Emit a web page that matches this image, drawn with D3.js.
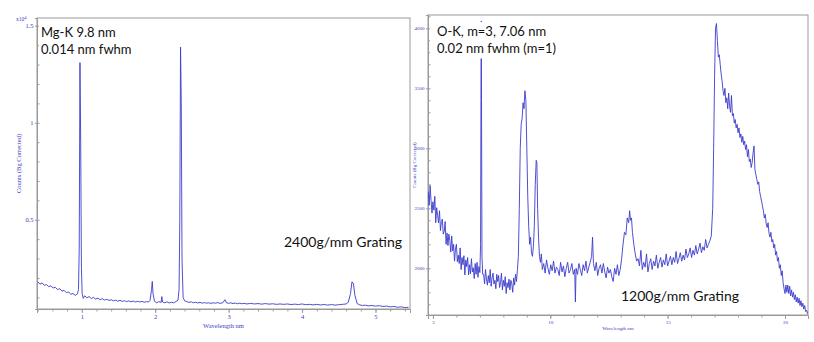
<!DOCTYPE html>
<html>
<head>
<meta charset="utf-8">
<script src="https://cdn.jsdelivr.net/npm/d3@7"></script>
<style>
  html, body { margin: 0; padding: 0; background: #fff; }
  svg { display: block; }
</style>
</head>
<body>
<svg id="chart" width="814" height="342"></svg>
<script>
// ---- Mg-K spectrum, 2400 g/mm grating (counts in units of 10^4) ----
const leftSpectrum = [
  [0.40,0.180],[0.43,0.168],[0.46,0.175],[0.49,0.162],[0.52,0.166],[0.55,0.155],[0.58,0.160],
  [0.61,0.148],[0.64,0.152],[0.67,0.140],[0.70,0.145],[0.73,0.132],[0.76,0.136],[0.79,0.124],
  [0.82,0.128],[0.85,0.116],[0.88,0.120],[0.91,0.110],[0.94,0.118],[0.955,0.140],[0.965,0.350],
  [0.975,1.310],[0.985,0.900],[0.995,0.250],[1.005,0.120],[1.02,0.095],[1.04,0.108],[1.07,0.098],
  [1.10,0.104],[1.13,0.094],[1.16,0.100],[1.19,0.091],[1.22,0.096],[1.25,0.088],[1.28,0.093],
  [1.31,0.086],[1.34,0.090],[1.37,0.084],[1.40,0.088],[1.43,0.082],[1.46,0.086],[1.49,0.080],
  [1.52,0.085],[1.55,0.079],[1.58,0.083],[1.61,0.078],[1.64,0.082],[1.67,0.077],[1.70,0.081],
  [1.73,0.076],[1.76,0.080],[1.79,0.076],[1.82,0.079],[1.85,0.075],[1.88,0.078],[1.91,0.076],
  [1.93,0.085],[1.95,0.140],[1.96,0.182],[1.97,0.120],[1.99,0.080],[2.02,0.072],[2.05,0.078],
  [2.08,0.074],[2.09,0.104],[2.10,0.076],[2.13,0.072],[2.16,0.077],[2.19,0.071],[2.22,0.075],
  [2.25,0.072],[2.28,0.078],[2.31,0.085],[2.325,0.140],[2.335,0.500],[2.345,1.390],[2.355,1.100],
  [2.365,0.300],[2.38,0.100],[2.40,0.082],[2.43,0.078],[2.46,0.074],[2.49,0.077],[2.52,0.072],
  [2.55,0.075],[2.58,0.071],[2.61,0.074],[2.64,0.070],[2.67,0.073],[2.70,0.070],[2.73,0.072],
  [2.76,0.069],[2.79,0.072],[2.82,0.070],[2.85,0.073],[2.88,0.069],[2.92,0.072],[2.95,0.088],
  [2.97,0.072],[3.00,0.069],[3.03,0.072],[3.06,0.068],[3.09,0.071],[3.12,0.067],[3.15,0.070],
  [3.18,0.067],[3.21,0.069],[3.25,0.066],[3.30,0.069],[3.35,0.066],[3.40,0.068],[3.45,0.065],
  [3.50,0.068],[3.55,0.065],[3.60,0.067],[3.65,0.064],[3.70,0.066],[3.75,0.064],[3.80,0.066],
  [3.85,0.063],[3.90,0.065],[3.95,0.063],[4.00,0.066],[4.05,0.062],[4.10,0.064],[4.15,0.061],
  [4.20,0.064],[4.25,0.061],[4.30,0.063],[4.35,0.060],[4.40,0.063],[4.45,0.060],[4.50,0.062],
  [4.55,0.064],[4.60,0.066],[4.63,0.075],[4.66,0.120],[4.68,0.180],[4.70,0.170],[4.72,0.110],
  [4.75,0.068],[4.78,0.062],[4.82,0.058],[4.86,0.060],[4.90,0.056],[4.95,0.058],[5.00,0.055],
  [5.05,0.057],[5.10,0.053],[5.15,0.055],[5.20,0.051],[5.25,0.053],[5.30,0.049],[5.35,0.051],
  [5.40,0.047],[5.45,0.049]
];
const leftXTicks = [1, 2, 3, 4, 5];
const leftYTicks = [0.5, 1, 1.5];
const leftNotes = ["Mg-K 9.8 nm", "0.014 nm fwhm"];
const leftGrating = "2400g/mm Grating";

// ---- O-K spectrum, 1200 g/mm grating (counts) ----
const rightSpectrum = [
  [4.80,2640],[4.84,2525],[4.88,2690],[4.92,2565],[4.96,2460],[5.00,2555],[5.04,2485],[5.08,2600],
  [5.12,2380],[5.16,2505],[5.20,2440],[5.24,2380],[5.28,2480],[5.32,2315],[5.36,2390],[5.40,2410],
  [5.44,2285],[5.48,2305],[5.52,2390],[5.56,2200],[5.60,2295],[5.64,2190],[5.68,2285],[5.72,2230],
  [5.76,2135],[5.80,2270],[5.84,2145],[5.88,2200],[5.92,2060],[5.96,2160],[6.00,2200],[6.04,2055],
  [6.08,2110],[6.12,2040],[6.16,2170],[6.20,1990],[6.24,2090],[6.28,2030],[6.32,2105],[6.36,1945],
  [6.40,2070],[6.44,2015],[6.48,2090],[6.52,1945],[6.56,2030],[6.60,1955],[6.64,2080],[6.68,1970],
  [6.72,2005],[6.76,1915],[6.80,2040],[6.84,1950],[6.88,2050],[6.92,1925],[6.96,2015],[7.00,1965],
  [7.03,2200],[7.05,3600],[7.06,4060],[7.07,3400],[7.09,2100],[7.12,1950],[7.16,1950],[7.20,1870],
  [7.24,1990],[7.28,1910],[7.32,1860],[7.36,1940],[7.40,1880],[7.44,1990],[7.48,1850],[7.52,1920],
  [7.56,1960],[7.60,1870],[7.64,1900],[7.68,1830],[7.72,1950],[7.76,1890],[7.80,1940],[7.84,1840],
  [7.88,1880],[7.92,1960],[7.96,1820],[8.00,1900],[8.04,1850],[8.08,1930],[8.12,1790],[8.16,1880],
  [8.20,1840],[8.24,1910],[8.28,1820],[8.32,1900],[8.36,1870],[8.40,1800],[8.44,1920],[8.48,1860],
  [8.52,1950],[8.56,1890],[8.60,1990],[8.64,2100],[8.68,2500],[8.72,3000],[8.76,3200],[8.80,3250],
  [8.84,3380],[8.88,3330],[8.92,3480],[8.96,3400],[9.00,3000],[9.04,2600],[9.08,2350],[9.12,2200],
  [9.16,2260],[9.20,2130],[9.24,2100],[9.28,2180],[9.32,2350],[9.36,2700],[9.40,2900],[9.43,2880],
  [9.46,2500],[9.50,2250],[9.54,2100],[9.58,2050],[9.62,2120],[9.66,1990],[9.72,2040],[9.78,1960],
  [9.84,2070],[9.90,2000],[9.96,1950],[10.02,2030],[10.08,1980],[10.14,2060],[10.20,1960],[10.26,2010],
  [10.32,1990],[10.38,1940],[10.44,2050],[10.50,1970],[10.56,2020],[10.62,1930],[10.68,2000],[10.74,2050],
  [10.80,1960],[10.86,1990],[10.92,2040],[10.98,1950],[11.04,1990],[11.07,1720],[11.10,2000],[11.16,1950],
  [11.22,2040],[11.28,1990],[11.34,1940],[11.40,2030],[11.46,1980],[11.52,2060],[11.58,1960],[11.64,2010],
  [11.70,2050],[11.76,2100],[11.80,2260],[11.84,2040],[11.90,1980],[11.96,2050],[12.02,1940],[12.08,2000],
  [12.14,2030],[12.20,1960],[12.26,2040],[12.32,1970],[12.38,1920],[12.44,2010],[12.50,1960],[12.56,1990],
  [12.62,1930],[12.68,1890],[12.74,2000],[12.80,1950],[12.86,2030],[12.92,1940],[12.98,1990],[13.04,2080],
  [13.10,2200],[13.16,2300],[13.22,2280],[13.28,2420],[13.34,2380],[13.38,2480],[13.42,2400],[13.46,2420],
  [13.50,2300],[13.56,2200],[13.62,2120],[13.68,2060],[13.74,2080],[13.80,2020],[13.86,2150],[13.92,1990],
  [13.98,2050],[14.04,2010],[14.10,2120],[14.16,1970],[14.22,2040],[14.28,2080],[14.34,1990],[14.40,2060],
  [14.46,2020],[14.52,2110],[14.58,2000],[14.64,2050],[14.70,2090],[14.76,2010],[14.82,2070],[14.88,2030],
  [14.94,2120],[15.00,2020],[15.06,2060],[15.12,2100],[15.18,2030],[15.24,2090],[15.30,2050],[15.36,2140],
  [15.42,2040],[15.48,2080],[15.54,2130],[15.60,2060],[15.66,2110],[15.72,2070],[15.78,2160],[15.84,2090],
  [15.90,2120],[15.96,2170],[16.02,2090],[16.08,2150],[16.14,2110],[16.20,2190],[16.26,2120],[16.32,2160],
  [16.38,2210],[16.44,2130],[16.50,2180],[16.56,2150],[16.62,2240],[16.68,2170],[16.74,2200],[16.80,2230],
  [16.86,2270],[16.92,2500],[16.96,3000],[17.00,3600],[17.04,4000],[17.08,4040],[17.12,3900],[17.16,3760],
  [17.20,3780],[17.24,3700],[17.28,3620],[17.32,3560],[17.36,3480],[17.40,3440],[17.44,3500],[17.48,3380],
  [17.52,3420],[17.56,3330],[17.60,3460],[17.64,3350],[17.68,3300],[17.72,3440],[17.76,3270],[17.80,3290],
  [17.84,3210],[17.88,3240],[17.92,3170],[17.96,3200],[18.00,3130],[18.04,3170],[18.08,3090],[18.12,3120],
  [18.16,3050],[18.20,3100],[18.24,3030],[18.28,3060],[18.32,2990],[18.36,3030],[18.40,2930],[18.44,2990],
  [18.48,2890],[18.52,2910],[18.56,2840],[18.60,2880],[18.64,2960],[18.68,3020],[18.72,2820],[18.76,2780],
  [18.80,2740],[18.84,2700],[18.88,2720],[18.92,2640],[18.96,2600],[19.00,2560],[19.04,2520],[19.08,2480],
  [19.12,2420],[19.16,2450],[19.20,2370],[19.24,2340],[19.28,2380],[19.32,2290],[19.36,2260],[19.40,2300],
  [19.44,2220],[19.48,2240],[19.52,2170],[19.56,2200],[19.60,2110],[19.64,2140],[19.68,2060],[19.72,2090],
  [19.76,2000],[19.80,2030],[19.84,1940],[19.88,1980],[19.92,1880],[19.96,1830],[20.00,1790],[20.04,1860],
  [20.08,1800],[20.12,1860],[20.16,1790],[20.20,1850],[20.24,1770],[20.28,1820],[20.32,1760],[20.36,1800],
  [20.40,1740],[20.44,1780],[20.48,1720],[20.52,1760],[20.56,1710],[20.60,1750],[20.64,1690],[20.68,1730],
  [20.72,1680],[20.76,1710],[20.80,1660],[20.84,1690],[20.88,1640],[20.92,1650],[20.96,1620]
];
const rightXTicks = [5, 10, 15, 20];
const rightYTicks = [2000, 2500, 3000, 3500, 4000];
const rightNotes = ["O-K, m=3, 7.06 nm", "0.02 nm fwhm (m=1)"];
const rightGrating = "1200g/mm Grating";

const xTitle = "Wavelength nm";
const yTitle = "Counts (Bg Corrected)";

// ---- shared styling ----
const lineColor = "#3b3bcc";
const axisColor = "#9a9a9a";
const tickTextColor = "#3c3cc0";
const noteFont = "Lato, 'Open Sans', sans-serif";
const tickFont = "'Liberation Serif', 'DejaVu Serif', serif";

const svg = d3.select("#chart");

function drawPanel(cfg) {
  const g = svg.append("g");
  const x = d3.scaleLinear().domain(cfg.xDomain).range([cfg.left, cfg.right]);
  const y = d3.scaleLinear().domain(cfg.yDomain).range([cfg.bottom, cfg.top]);

  // frame
  g.append("rect")
    .attr("x", cfg.left).attr("y", cfg.top)
    .attr("width", cfg.right - cfg.left).attr("height", cfg.bottom - cfg.top)
    .attr("fill", "none").attr("stroke", axisColor).attr("stroke-width", 1);

  // x minor ticks
  const xMinor = d3.range(Math.ceil(cfg.xDomain[0] / cfg.xMinorStep), Math.floor(cfg.xDomain[1] / cfg.xMinorStep) + 1)
    .map(i => +(i * cfg.xMinorStep).toFixed(4));
  const xAxisMinor = d3.axisBottom(x).tickValues(xMinor).tickSize(2.5).tickFormat("");
  g.append("g").attr("transform", `translate(0,${cfg.bottom})`).call(xAxisMinor)
    .call(a => a.select(".domain").remove())
    .call(a => a.selectAll("line").attr("stroke", axisColor));

  const xAxis = d3.axisBottom(x).tickValues(cfg.xTicks).tickSize(4).tickPadding(1.5).tickFormat(d3.format("d"));
  g.append("g").attr("transform", `translate(0,${cfg.bottom})`).call(xAxis)
    .call(a => a.select(".domain").attr("stroke", axisColor))
    .call(a => a.selectAll("line").attr("stroke", axisColor))
    .call(a => a.selectAll("text").attr("fill", tickTextColor)
      .attr("font-family", tickFont).attr("font-size", cfg.tickSize));

  // y minor ticks (drawn inside the frame)
  const yMinor = d3.range(Math.ceil(cfg.yDomain[0] / cfg.yMinorStep), Math.floor(cfg.yDomain[1] / cfg.yMinorStep) + 1)
    .map(i => +(i * cfg.yMinorStep).toFixed(4));
  const yAxisMinor = d3.axisLeft(y).tickValues(yMinor).tickSize(-2.5).tickFormat("");
  g.append("g").attr("transform", `translate(${cfg.left},0)`).call(yAxisMinor)
    .call(a => a.select(".domain").remove())
    .call(a => a.selectAll("line").attr("stroke", axisColor));

  const yAxis = d3.axisLeft(y).tickValues(cfg.yTicks).tickSize(2).tickPadding(1.5).tickFormat(cfg.yFormat);
  g.append("g").attr("transform", `translate(${cfg.left},0)`).call(yAxis)
    .call(a => a.select(".domain").attr("stroke", axisColor))
    .call(a => a.selectAll("line").attr("stroke", axisColor))
    .call(a => a.selectAll("text").attr("fill", tickTextColor)
      .attr("font-family", tickFont).attr("font-size", cfg.tickSize));

  // axis titles
  g.append("text")
    .attr("x", (cfg.left + cfg.right) / 2).attr("y", cfg.xTitleY)
    .attr("text-anchor", "middle").attr("fill", tickTextColor)
    .attr("font-family", tickFont).attr("font-size", cfg.tickSize)
    .text(xTitle);
  g.append("text")
    .attr("transform", `translate(${cfg.yTitleX},${(cfg.top + cfg.bottom) / 2}) rotate(-90)`)
    .attr("text-anchor", "middle").attr("fill", tickTextColor)
    .attr("font-family", tickFont).attr("font-size", cfg.tickSize)
    .text(yTitle);

  // spectrum
  const clipId = "clip-" + cfg.id;
  svg.append("clipPath").attr("id", clipId).append("rect")
    .attr("x", cfg.left).attr("y", cfg.top - 8)
    .attr("width", cfg.right - cfg.left).attr("height", cfg.bottom - cfg.top + 8);
  const line = d3.line().x(d => x(d[0])).y(d => y(d[1]));
  g.append("path")
    .datum(cfg.data)
    .attr("clip-path", `url(#${clipId})`)
    .attr("fill", "none").attr("stroke", lineColor)
    .attr("stroke-width", 0.9).attr("stroke-linejoin", "round")
    .attr("d", line);

  // annotation box (opaque, sits over the trace)
  const notes = g.append("g");
  const box = notes.append("rect").attr("fill", "#fff");
  cfg.notes.forEach((t, i) => {
    notes.append("text")
      .attr("x", cfg.left + cfg.noteDx).attr("y", cfg.noteY + i * 16.5)
      .attr("fill", "#111").attr("font-family", noteFont).attr("font-size", 13)
      .text(t);
  });
  const bb = notes.node().getBBox();
  box.attr("x", cfg.left + 2).attr("y", cfg.noteY - 14)
    .attr("width", bb.width + cfg.noteDx).attr("height", bb.y + bb.height - (cfg.noteY - 14) + 3);

  g.append("text")
    .attr("x", cfg.gratingX).attr("y", cfg.gratingY)
    .attr("fill", "#111").attr("font-family", noteFont).attr("font-size", 14)
    .text(cfg.grating);

  return { g, x, y };
}

// left panel: Mg-K
const leftPanel = drawPanel({
  id: "mg", data: leftSpectrum,
  left: 37, right: 410, top: 18, bottom: 309,
  xDomain: [0.39, 5.47], yDomain: [0.04, 1.54],
  xTicks: leftXTicks, yTicks: leftYTicks,
  xMinorStep: 0.2, yMinorStep: 0.1,
  yFormat: d => d3.format("")(d),
  tickSize: 6.5, xTitleY: 328, yTitleX: 21,
  notes: leftNotes, noteDx: 4, noteY: 37,
  grating: leftGrating, gratingX: 284, gratingY: 247
});
// scale multiplier above the left axis
leftPanel.g.append("text")
  .attr("x", 16).attr("y", 21)
  .attr("fill", tickTextColor).attr("font-family", tickFont).attr("font-size", 5.5)
  .text("x10")
  .append("tspan").attr("dy", -2.5).attr("font-size", 4.5).text("4");

// right panel: O-K
drawPanel({
  id: "ok", data: rightSpectrum,
  left: 428, right: 808, top: 15, bottom: 315,
  xDomain: [4.79, 20.98], yDomain: [1611, 4111],
  xTicks: rightXTicks, yTicks: rightYTicks,
  xMinorStep: 1, yMinorStep: 100,
  yFormat: d3.format("d"),
  tickSize: 5, xTitleY: 330, yTitleX: 416,
  notes: rightNotes, noteDx: 9, noteY: 36,
  grating: rightGrating, gratingX: 621, gratingY: 301
});
</script>
</body>
</html>
